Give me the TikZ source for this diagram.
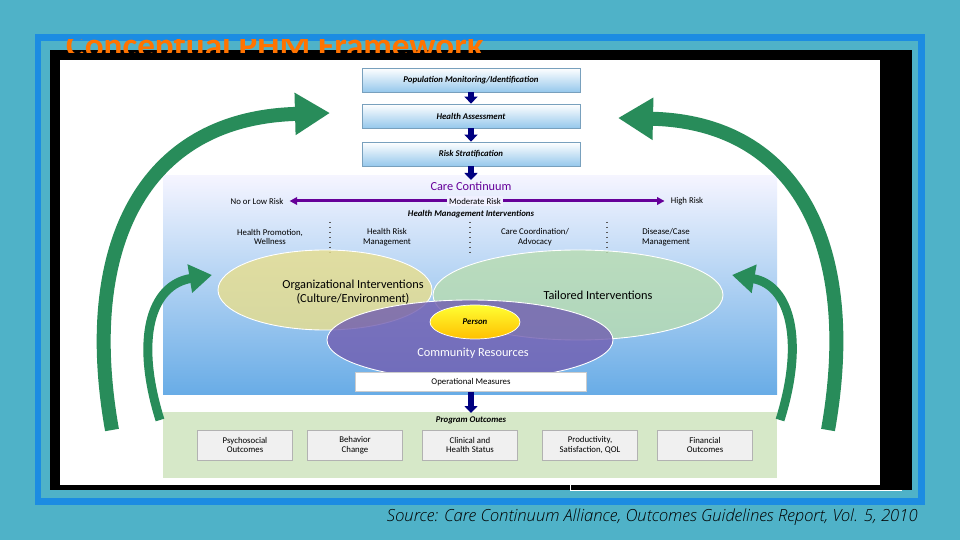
\documentclass[tikz,border=0pt]{standalone}
\usepackage{fontspec}
\setmainfont{Carlito}
\newfontfamily\srcfont{Open Sans Light}
\usetikzlibrary{arrows.meta,positioning,shapes.geometric}

\definecolor{slidebg}{RGB}{79,178,200}
\definecolor{framebl}{RGB}{28,140,226}
\definecolor{stepbl}{RGB}{150,200,236}
\definecolor{panelbl}{RGB}{104,172,230}
\definecolor{arcgreen}{RGB}{40,140,90}
\definecolor{orgyel}{RGB}{232,222,140}
\definecolor{tailgrn}{RGB}{184,220,176}
\definecolor{commpur}{RGB}{112,92,176}
\definecolor{outgrn}{RGB}{214,232,200}

\tikzset{
  stage/.style={draw=stepbl!80!black,top color=white,bottom color=stepbl,minimum width=218*0.02cm,minimum height=24*0.02cm,font=\fontsize{5}{6}\selectfont\bfseries\itshape},
  down/.style={-{Triangle[length=1.4mm,width=2.6mm]},line width=1.2mm,blue!50!black},
  outcome/.style={draw=gray!60,fill=gray!12,minimum width=95*0.02cm,minimum height=30*0.02cm,align=center,font=\fontsize{5}{5.5}\selectfont},
  col/.style={align=center,font=\fontsize{5}{5.5}\selectfont},
  big/.style={-{Triangle[length=7mm,width=8mm]},line width=2.8mm,arcgreen},
  small/.style={-{Triangle[length=4.5mm,width=5.5mm]},line width=1.8mm,arcgreen},
  blob/.style={ellipse,draw=white,line width=.5pt,fill opacity=.8,font=\fontsize{7}{8}\selectfont}
}

\begin{document}
\begin{tikzpicture}[x=0.02cm,y=-0.02cm]
  \useasboundingbox (0,0) rectangle (960,540);
  \fill[slidebg] (0,0) rectangle (960,540);
  \draw[line width=1.4mm,framebl] (38,38) rectangle (921,501);
  \fill[black] (50,50) rectangle (912,490);
  \fill[white] (60,60) rectangle (880,485);
  \draw[white] (570,485) -- (570,490) -- (902,490);
  % cut-off title
  \begin{scope}
    \clip (50,40) rectangle (912,53);
    \node[anchor=west,orange!90!red,font=\fontsize{20}{22}\selectfont\bfseries] (title) at (60,48) {Conceptual PHM Framework};
  \end{scope}

  % steps
  \node[stage] (POP) at (471,80) {Population Monitoring/Identification};
  \node[stage] (ASSESS) at (471,116) {Health Assessment};
  \node[stage] (RISK) at (471,154) {Risk Stratification};
  \draw[down] (POP) -- (ASSESS);
  \draw[down] (ASSESS) -- (RISK);

  % care continuum panel
  \shade[top color=blue!4,bottom color=panelbl] (163,176) rectangle (777,395);
  \draw[down] (RISK) -- (471,180);
  \node[violet!80!blue,font=\fontsize{7}{8}\selectfont] (CARE) at (471,186) {Care Continuum};
  \node[col] (LOW) at (257,201) {No or Low Risk};
  \node[col,fill=blue!6,inner sep=1pt] (MOD) at (475,201) {Moderate Risk};
  \node[col] (HIGH) at (687,201) {High Risk};
  \draw[-{Triangle[length=1.5mm,width=1.5mm]},violet!80!blue,line width=.6mm] (MOD) -- (LOW);
  \draw[-{Triangle[length=1.5mm,width=1.5mm]},violet!80!blue,line width=.6mm] (MOD) -- (HIGH);
  \node[col,font=\fontsize{5}{6}\selectfont\bfseries\itshape] (HMI) at (471,214) {Health Management Interventions};
  \node[col] (PROMO) at (270,237) {Health Promotion,\\Wellness};
  \node[col] (HRM) at (387,237) {Health Risk\\Management};
  \node[col] (COORD) at (535,237) {Care Coordination/\\Advocacy};
  \node[col] (CASE) at (666,237) {Disease/Case\\Management};
  \foreach \x in {330,470,607} \draw[dotted,thick,gray!70!black] (\x,222) -- (\x,252);

  % ellipses
  \node[blob,fill=orgyel,minimum width=214*0.02cm,minimum height=80*0.02cm] (ORG) at (325,290) {};
  \node[blob,fill=tailgrn,minimum width=290*0.02cm,minimum height=90*0.02cm] (TAIL) at (578,295) {};
  \node[blob,fill=commpur,minimum width=286*0.02cm,minimum height=80*0.02cm] (COMM) at (470,340) {};
  \node[align=center,font=\fontsize{7}{8}\selectfont] (ORGT) at (353,292) {Organizational Interventions\\(Culture/Environment)};
  \node[font=\fontsize{7}{8}\selectfont] (TAILT) at (598,295) {Tailored Interventions};
  \node[white,font=\fontsize{7}{8}\selectfont] (COMMT) at (473,353) {Community Resources};
  \node[ellipse,draw=white,top color=yellow!80,bottom color=yellow!50!orange,minimum width=90*0.02cm,minimum height=34*0.02cm,font=\fontsize{5}{6}\selectfont\bfseries\itshape] (PERSON) at (475,322) {Person};

  \node[stage,draw=gray!40,top color=white,bottom color=white,minimum width=231*0.02cm,minimum height=15*0.02cm,font=\fontsize{5}{6}\selectfont] (OPS) at (471,382) {Operational Measures};

  % outcomes
  \fill[outgrn] (163,412) rectangle (777,478);
  \draw[down] (OPS) -- (471,413);
  \node[font=\fontsize{5}{6}\selectfont\bfseries\itshape] (PROG) at (471,420) {Program Outcomes};
  \node[outcome] (PSY) at (245,445) {Psychosocial\\Outcomes};
  \node[outcome] (BEH) at (355,445) {Behavior\\Change};
  \node[outcome] (CLIN) at (470,445) {Clinical and\\Health Status};
  \node[outcome] (PROD) at (590,445) {Productivity,\\Satisfaction, QOL};
  \node[outcome] (FIN) at (705,445) {Financial\\Outcomes};

  % feedback arrows
  \coordinate (L1) at (112,430); \coordinate (L1t) at (330,113);
  \coordinate (L2) at (160,420); \coordinate (L2t) at (212,275);
  \coordinate (R1) at (828,430); \coordinate (R1t) at (618,118);
  \coordinate (R2) at (780,420); \coordinate (R2t) at (732,275);
  \draw[big] (L1) .. controls (80,250) and (140,118) .. (L1t);
  \draw[big] (R1) .. controls (860,250) and (800,122) .. (R1t);
  \draw[small] (L2) .. controls (135,340) and (150,285) .. (L2t);
  \draw[small] (R2) .. controls (805,340) and (790,285) .. (R2t);

  \node[anchor=east,font=\srcfont\fontsize{9.5}{11}\selectfont\itshape] (SRC) at (924,517) {Source: Care Continuum Alliance, Outcomes Guidelines Report, Vol. 5, 2010};
\end{tikzpicture}
\end{document}
